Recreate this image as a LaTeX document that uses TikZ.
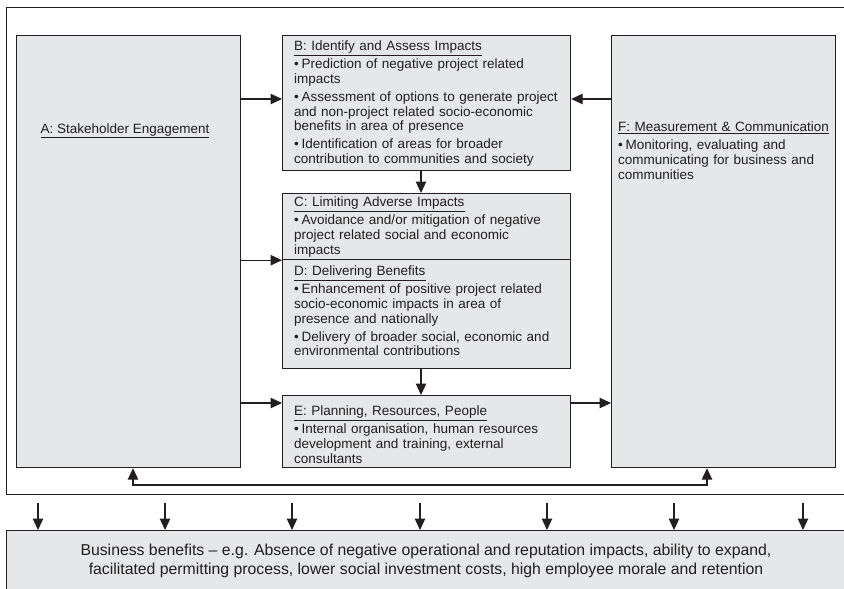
\documentclass[tikz,border=0pt]{standalone}
\usepackage{fontspec}
\setmainfont{Liberation Sans}
\usetikzlibrary{arrows.meta}

\definecolor{boxfill}{RGB}{230,231,232}
\definecolor{ink}{RGB}{35,31,32}

% bullet item with a hanging indent
\newcommand\bul{\par\vspace{3.4pt}\hangindent=7.5pt\hangafter=1\noindent\makebox[7.5pt][l]{\textbullet}}

\tikzset{
  box/.style={draw=ink, fill=boxfill, line width=1.2pt, inner sep=0pt, anchor=north west},
  frame/.style={draw=ink, line width=1.2pt, inner sep=0pt, anchor=north west},
  txt/.style={anchor=north west, inner sep=0pt, text width=280pt, align=left,
    text=ink, font=\fontsize{13.5}{14.6}\selectfont},
  lab/.style={inner sep=0pt, text=ink, font=\fontsize{13.5}{14.6}\selectfont},
  tip/.style={},
  arr/.style={draw=ink, line width=1.1pt, -{Triangle[length=11.5pt,width=10.5pt]}},
  biarr/.style={draw=ink, line width=1.1pt, {Triangle[length=11.5pt,width=10.5pt]}-{Triangle[length=11.5pt,width=10.5pt]}},
}

\begin{document}
\begin{tikzpicture}[x=1pt, y=-1pt]
\useasboundingbox (0,0) rectangle (844,589);
\clip (0,0) rectangle (844,589);

% outer frame around the process
\node[frame, minimum width=860, minimum height=487] (frame) at (6,7) {};

% process boxes
\node[box, minimum width=224, minimum height=432] (A) at (16,35) {};
\node[box, minimum width=288, minimum height=135] (B) at (282,35) {};
\node[box, minimum width=288, minimum height=66]  (C) at (282,193) {};
\node[box, minimum width=288, minimum height=109] (D) at (282,259) {};
\node[box, minimum width=288, minimum height=72]  (E) at (282,395) {};
\node[box, minimum width=224, minimum height=432] (F) at (611,35) {};

% business benefits band
\node[box, minimum width=860, minimum height=80] (G) at (6,530) {};

% texts
\node[lab, anchor=base] (Atxt) at (125,133) {\underline{A: Stakeholder Engagement}};

\node[txt] (Btxt) at (294,41) {\underline{B: Identify and Assess Impacts}
  \bul Prediction of negative project related\\impacts
  \bul Assessment of options to generate project\\and non-project related socio-economic\\benefits in area of presence
  \bul Identification of areas for broader\\contribution to communities and society};

\node[txt] (Ctxt) at (294,197) {\underline{C: Limiting Adverse Impacts}
  \bul Avoidance and/or mitigation of negative\\project related social and economic\\impacts};

\node[txt] (Dtxt) at (294,266) {\underline{D: Delivering Benefits}
  \bul Enhancement of positive project related\\socio-economic impacts in area of\\presence and nationally
  \bul Delivery of broader social, economic and\\environmental contributions};

\node[txt] (Etxt) at (294,406) {\underline{E: Planning, Resources, People}
  \bul Internal organisation, human resources\\development and training, external\\consultants};

\node[txt, text width=215pt] (Ftxt) at (618,122) {\underline{F: Measurement \& Communication}
  \bul Monitoring, evaluating and\\communicating for business and\\communities};

\node[lab, align=center, font=\fontsize{15.8}{19.5}\selectfont] (Gtxt) at (426,561)
  {Business benefits -- e.g. Absence of negative operational and reputation impacts, ability to expand,\\
   facilitated permitting process, lower social investment costs, high employee morale and retention};

% reference heights for the horizontal connectors
\coordinate (yAB) at (0,99);
\coordinate (yAE) at (0,403);
\coordinate (xBC) at (421,0);
\coordinate (fl) at (133,485);
\coordinate (fr) at (707,485);

% connectors
\draw[arr] (A.east |- yAB) -- (B.west |- yAB);
\draw[arr] (F.west |- yAB) -- (B.east |- yAB);
\draw[arr] (A.east |- C.south) -- (C.south west);
\draw[arr] (A.east |- yAE) -- (E.west |- yAE);
\draw[arr] (E.east |- yAE) -- (F.west |- yAE);
\draw[arr] (B.south -| xBC) -- (C.north -| xBC);
\draw[arr] (D.south -| xBC) -- (E.north -| xBC);
\draw[biarr] (A.south -| fl) -- (fl) -- (fr) -- (F.south -| fr);

% outputs into the business benefits band
\foreach \x in {38,165,292,420,547,674,803}
  \draw[arr] (\x,503) -- (G.north -| \x,0);
\end{tikzpicture}
\end{document}
